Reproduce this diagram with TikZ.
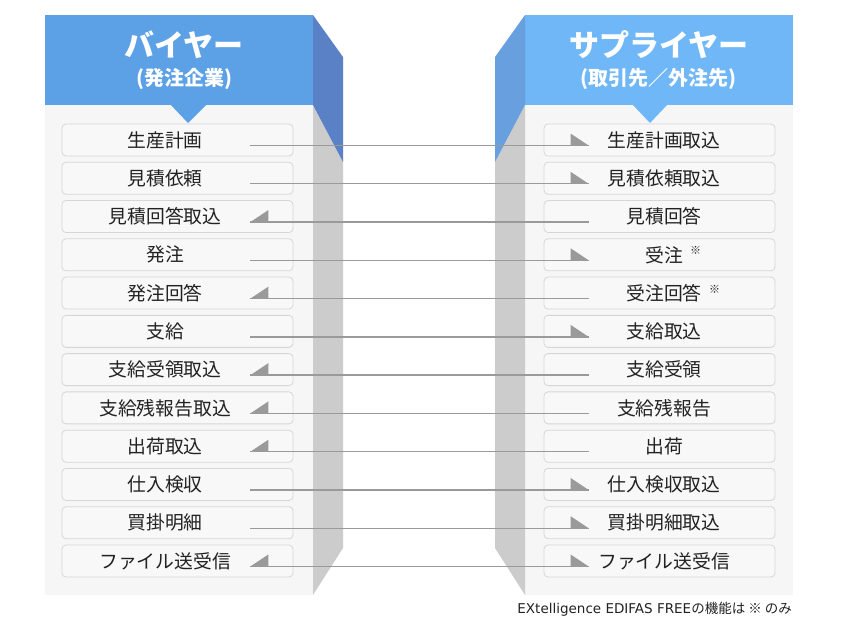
\documentclass[tikz,border=0pt]{standalone}
\usepackage{fontspec}
\setmainfont{Noto Sans CJK JP}
\newfontfamily\latinfoot{DejaVu Sans}
\usetikzlibrary{calc}
\definecolor{lhead}{HTML}{5CA0E6}
\definecolor{lside}{HTML}{5A80C6}
\definecolor{rhead}{HTML}{70B7F7}
\definecolor{rside}{HTML}{689FDF}
\definecolor{panelbg}{HTML}{F6F6F6}
\definecolor{sidegrey}{HTML}{CCCCCC}
\definecolor{boxline}{HTML}{D6D6D6}
\definecolor{boxfill}{HTML}{F8F8F8}
\definecolor{connc}{HTML}{9A9A9A}
\definecolor{txt}{HTML}{222222}
\tikzset{
  box/.style={draw=boxline, fill=boxfill, line width=0.8pt, rounded corners=4pt,
    minimum width=231pt, minimum height=32pt, inner sep=0pt},
  btext/.style={inner sep=0pt, text=txt, font=\fontsize{18.8}{22}\selectfont},
  title/.style={inner sep=0pt, text=white, font=\fontsize{30}{34}\selectfont\bfseries},
  subtitle/.style={inner sep=0pt, text=white, font=\fontsize{20}{24}\selectfont\bfseries},
  kome/.style={inner sep=0pt, text=txt, font=\fontsize{11}{12}\selectfont},
  conn/.style={draw=connc, line width=1.4pt},
  head/.style={fill=connc},
  foot/.style={inner sep=0pt, text=txt, font=\fontsize{13.5}{15}\selectfont}
}
\begin{document}
\begin{tikzpicture}[x=1pt,y=-1pt]
\useasboundingbox (0,0) rectangle (847,625);
\fill[white] (0,0) rectangle (847,625);
% left panel
\fill[panelbg] (45,105) rectangle (313,595);
\fill[sidegrey] (313,105) -- (343,162) -- (343,548) -- (313,595) -- cycle;
\fill[lhead] (45,15) rectangle (313,105);
\fill[lhead] (170,104) -- (207,104) -- (188,123) -- cycle;
\fill[lside] (313,15) -- (343,57) -- (343,162) -- (313,105) -- cycle;
\node[title] (LH) at (184,45) {バイヤー};
\node[subtitle] (LS) at (184,79) {(発注企業)};
% right panel
\fill[panelbg] (525,105) rectangle (793,595);
\fill[sidegrey] (525,105) -- (495,162) -- (495,548) -- (525,595) -- cycle;
\fill[rhead] (525,15) rectangle (793,105);
\fill[rhead] (632,104) -- (668,104) -- (650,123) -- cycle;
\fill[rside] (525,15) -- (495,57) -- (495,162) -- (525,105) -- cycle;
\node[title] (RH) at (659,45) {サプライヤー};
\node[subtitle] (RS) at (658,79) {(取引先／外注先)};
% rows
\foreach \i/\lt/\rt [evaluate=\i as \y using 140+38.27*(\i-1)] in {
  1/生産計画/生産計画取込,
  2/見積依頼/見積依頼取込,
  3/見積回答取込/見積回答,
  4/発注/受注,
  5/発注回答/受注回答,
  6/支給/支給取込,
  7/支給受領取込/支給受領,
  8/支給残報告取込/支給残報告,
  9/出荷取込/出荷,
  10/仕入検収/仕入検収取込,
  11/買掛明細/買掛明細取込,
  12/ファイル送受信/ファイル送受信}{
  \node[box] (L\i) at (177.5,\y) {};
  \node[btext] (LT\i) at (165,\y) {\lt};
  \node[box] (R\i) at (659.5,\y) {};
  \node[btext] (RT\i) at (664,\y) {\rt};
  \coordinate (A\i) at ($(L\i.east)+(-43,5.5)$);
  \coordinate (B\i) at ($(R\i.west)+(45,5.5)$);
  \draw[conn] (A\i) -- (B\i);
}
\foreach \i in {1,2,4,6,10,11,12}
  \fill[head] (B\i) -- ++(-18,0) -- ++(0,-12) -- cycle;
\foreach \i in {3,5,7,8,9,12}
  \fill[head] (A\i) -- ++(18,0) -- ++(0,-12) -- cycle;
\node[kome, anchor=west] (K4) at ($(RT4.east)+(7,-4)$) {※};
\node[kome, anchor=west] (K5) at ($(RT5.east)+(7,-4)$) {※};
\node[foot, anchor=east] (F) at (792,609) {{\latinfoot EXtelligence EDIFAS FREE}の機能は ※ のみ};
\end{tikzpicture}
\end{document}
